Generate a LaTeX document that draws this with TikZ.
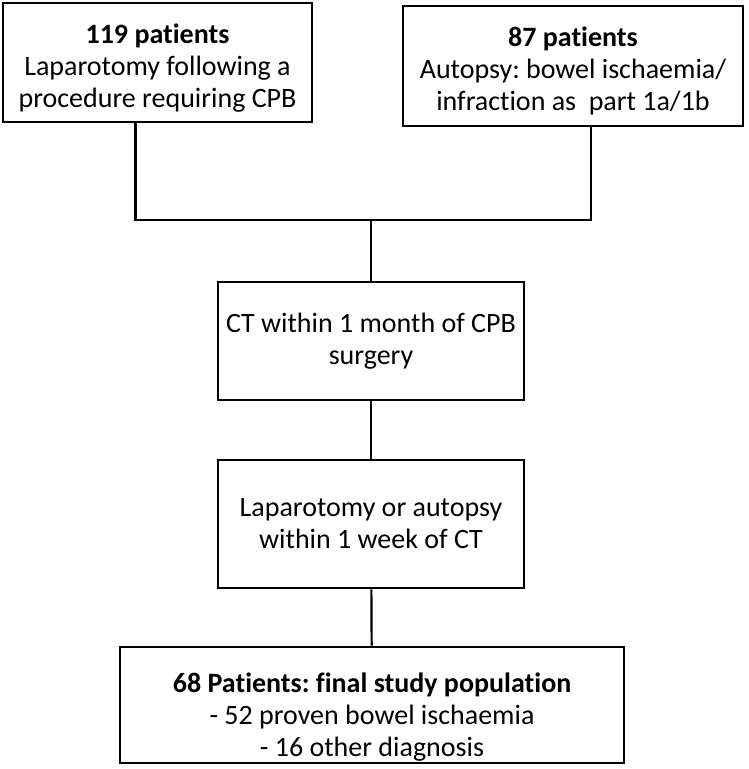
\documentclass[tikz,border=0pt]{standalone}
\usepackage{fontspec}
\setmainfont{Carlito}[Ligatures=NoCommon]
\usetikzlibrary{calc}
\frenchspacing

\begin{document}
\begin{tikzpicture}[x=1pt,y=-1pt,
    box/.style={draw,line width=2.6pt,align=center,inner sep=0pt,
        font=\fontsize{28}{32}\selectfont},
    link/.style={line width=2.2pt}]
    \useasboundingbox (0,0) rectangle (748,769);
    \node[box,minimum width=309pt,minimum height=119pt] (pat119) at (157.5,62.5)
        {\rule{0pt}{30pt}\textbf{119 patients}\\Laparotomy following a\\procedure requiring CPB};
    \node[box,minimum width=340pt,minimum height=120pt] (pat87) at (573,66)
        {\rule{0pt}{30pt}\textbf{87 patients}\\Autopsy: bowel ischaemia/\\infraction as~~part 1a/1b};
    \coordinate (join) at (371,220);
    \node[box,minimum width=306pt,minimum height=118pt] (ctscan) at (371,341)
        {CT within 1 month of CPB\\surgery};
    \node[box,minimum width=306pt,minimum height=128pt] (lapaut) at (371,524)
        {Laparotomy or autopsy\\within 1 week of CT};
    \node[box,minimum width=504pt,minimum height=116pt] (final) at (372,705)
        {\rule{0pt}{44pt}\textbf{68 Patients: final study population}\\- 52 proven bowel ischaemia\\- 16 other diagnosis};
    \draw[link] ([xshift=-22pt]pat119.south) |- (join) -| ([xshift=18pt]pat87.south);
    \draw[link] (join) -- (ctscan);
    \draw[link] (ctscan) -- (lapaut);
    \draw[link] (lapaut) -- (final);
\end{tikzpicture}
\end{document}
